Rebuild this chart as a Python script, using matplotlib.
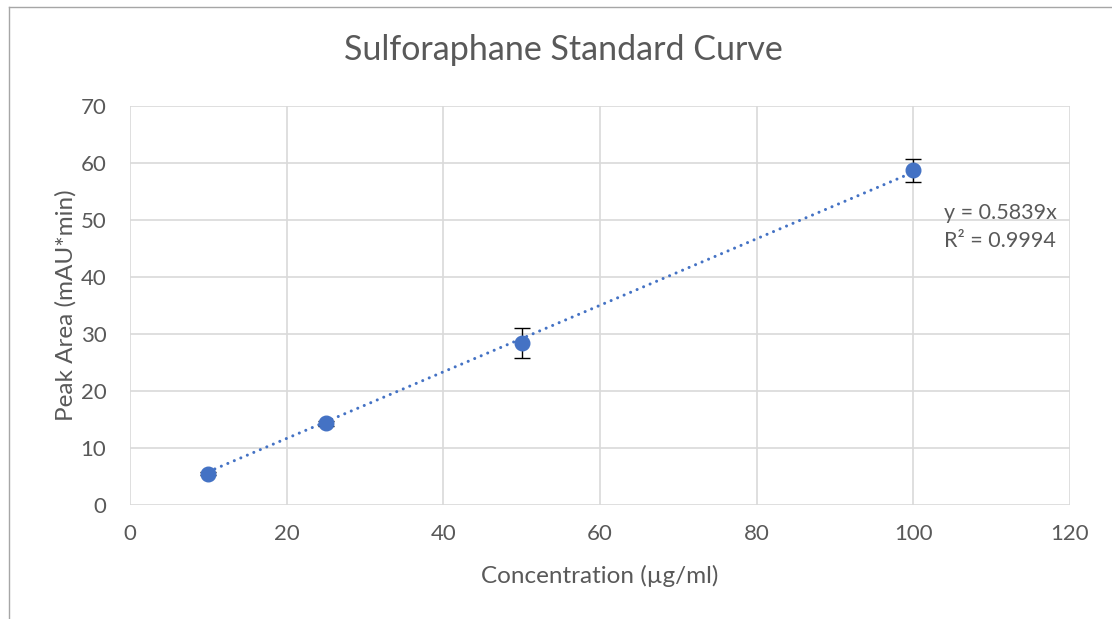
import numpy as np
import matplotlib.pyplot as plt
from matplotlib.lines import Line2D

plt.rcParams['font.family'] = ['Lato', 'DejaVu Sans']

conc = [10, 25, 50, 100]
area = [5.5, 14.3, 28.4, 58.7]
err = [0.3, 0.5, 2.6, 2.0]
slope = 0.5839
r2 = 0.9994

blue = '#4472C4'
grey_txt = '#595959'
grid_c = '#D9D9D9'

fig = plt.figure(figsize=(11.12, 6.19), dpi=100)
ax = fig.add_axes([130 / 1112, 1 - 505 / 619, 940 / 1112, 399 / 619])

# trendline (dotted)
xs = np.array([conc[0], conc[-1]])
ax.plot(xs, slope * xs, color=blue, lw=2.2, linestyle=(0, (0.01, 2.3)),
        dash_capstyle='round', zorder=2)

ax.errorbar(conc, area, yerr=err, fmt='o', color=blue, ms=10.5,
            ecolor='black', elinewidth=1, capsize=6, capthick=1, zorder=3)

ax.set_xlim(0, 120)
ax.set_ylim(0, 70)
ax.set_xticks(range(0, 121, 20))
ax.set_yticks(range(0, 71, 10))
ax.grid(True, color=grid_c, lw=1.2)
ax.set_axisbelow(True)
for s in ax.spines.values():
    s.set_visible(False)
ax.tick_params(length=0, labelsize=16, labelcolor=grey_txt)
ax.tick_params(axis='x', pad=14)
ax.tick_params(axis='y', pad=17)

ax.set_xlabel('Concentration (µg/ml)', fontsize=17.5, color=grey_txt, labelpad=15)
ax.set_ylabel('Peak Area (mAU*min)', fontsize=17.5, color=grey_txt, labelpad=3)
fig.text(563 / 1112, 1 - 50 / 619, 'Sulforaphane Standard Curve',
         fontsize=24.5, color=grey_txt, ha='center', va='center')

fig.text(944 / 1112, 1 - 227 / 619, 'y = %.4fx\nR² = %.4f' % (slope, r2),
         fontsize=15.5, color=grey_txt, ha='left', va='center', linespacing=1.45)

# outer chart border
fig.add_artist(Line2D([9 / 1112, 9 / 1112], [0, 1 - 7 / 619],
                      transform=fig.transFigure, color='#A6A6A6', lw=1))
fig.add_artist(Line2D([9 / 1112, 1], [1 - 7 / 619, 1 - 7 / 619],
                      transform=fig.transFigure, color='#A6A6A6', lw=1))

fig.savefig('out.png', dpi=100)
